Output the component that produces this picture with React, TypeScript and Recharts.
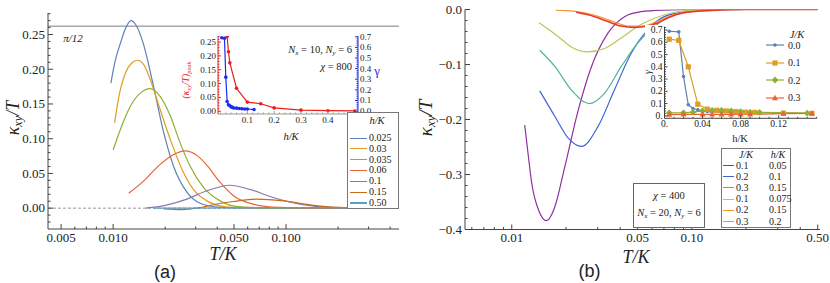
import React from "react";
import { LineChart, Line, XAxis, YAxis, ReferenceLine } from "recharts";

const SERIF = '"Liberation Serif", "Times New Roman", serif';
const SANS = '"Liberation Sans", Arial, sans-serif';
const FRAME = "#444";
const INK = "#222";

// ---------- panel (a): kappa_xy/T against T/K, one curve per h/K
const aLabels = ["0.025", "0.03", "0.035", "0.06", "0.1", "0.15", "0.50"];
const aColors = ["#5E81B5", "#E19C24", "#8FB032", "#EB6235", "#8778B3", "#C56E1A", "#5D9EC7"];

const aT025 = [0.0097, 0.0103, 0.0111, 0.0118, 0.0127, 0.0136, 0.0149, 0.0171, 0.0196, 0.0223, 0.0267, 0.0318, 0.04, 0.05, 0.07, 0.1, 0.2, 0.45];
const aK025 = [0.18, 0.213, 0.24, 0.259, 0.27, 0.263, 0.238, 0.176, 0.109, 0.061, 0.023, 0.007, 0.0015, 0.0003, 0, 0, 0, 0];
const aT03 = [0.0102, 0.0108, 0.0118, 0.0128, 0.0138, 0.015, 0.0164, 0.0187, 0.0214, 0.025, 0.0291, 0.0348, 0.045, 0.06, 0.1, 0.2, 0.45];
const aK03 = [0.123, 0.161, 0.195, 0.209, 0.213, 0.207, 0.185, 0.142, 0.099, 0.056, 0.027, 0.0105, 0.002, 0.0004, 0, 0, 0];
const aT035 = [0.01, 0.011, 0.0126, 0.0144, 0.0164, 0.0187, 0.0214, 0.0244, 0.0278, 0.0333, 0.0416, 0.05, 0.07, 0.1, 0.2, 0.45];
const aK035 = [0.084, 0.113, 0.147, 0.166, 0.172, 0.161, 0.133, 0.094, 0.061, 0.03, 0.0105, 0.003, 0.0005, 0, 0, 0];
const aT06 = [0.0123, 0.015, 0.0187, 0.0223, 0.0261, 0.0305, 0.0348, 0.0416, 0.0496, 0.0646, 0.09, 0.15, 0.45];
const aK06 = [0.0216, 0.039, 0.063, 0.077, 0.0824, 0.076, 0.062, 0.037, 0.018, 0.0057, 0.001, 0, 0];
const aT1 = [0.0154, 0.02, 0.0267, 0.0348, 0.0474, 0.0616, 0.0842, 0.12, 0.18, 0.3, 0.45];
const aK1 = [0, 0.004, 0.013, 0.025, 0.033, 0.027, 0.0154, 0.0057, 0.001, 0, 0];
const aT15 = [0.0196, 0.025, 0.032, 0.0398, 0.0496, 0.0675, 0.0963, 0.137, 0.2, 0.3, 0.45];
const aK15 = [-0.001, -0.002, 0.001, 0.006, 0.0096, 0.013, 0.0105, 0.0048, 0.001, 0, 0];
const aT50 = [0.017, 0.05, 0.1, 0.2, 0.45];
const aK50 = [0, 0.0003, 0.0005, 0.0003, 0];

// inset (a): peak height and gamma against h/K
const peakH = [0.025, 0.03, 0.035, 0.06, 0.1, 0.15, 0.2, 0.3, 0.4, 0.5];
const peakK = [0.27, 0.215, 0.175, 0.083, 0.033, 0.027, 0.012, 0.004, 0.002, 0.001];
const gamH = [0.005, 0.015, 0.02, 0.025, 0.03, 0.035, 0.04, 0.045, 0.05, 0.06, 0.07, 0.08, 0.09, 0.1, 0.125];
const gamG = [0.69, 0.685, 0.32, 0.09, 0.06, 0.05, 0.04, 0.035, 0.03, 0.028, 0.025, 0.022, 0.02, 0.02, 0.015];

// ---------- panel (b): kappa_xy/T against T/K for (J/K, h/K)
const bJ = ["0.1", "0.2", "0.3", "0.1", "0.2", "0.3"];
const bH = ["0.05", "0.1", "0.15", "0.075", "0.15", "0.2"];
const bColors = ["#8E2FA3", "#3D63D6", "#4DB39C", "#B8C65A", "#F09A2A", "#E8362A"];

const bT1 = [0.0118, 0.0124, 0.0129, 0.0141, 0.0156, 0.0173, 0.0197, 0.0234, 0.0277, 0.0342, 0.0423, 0.0523, 0.07, 0.1, 0.2, 0.5];
const bK1 = [-0.21, -0.27, -0.315, -0.365, -0.384, -0.36, -0.286, -0.183, -0.104, -0.043, -0.013, -0.004, -0.001, 0, 0, 0];
const bT2 = [0.0143, 0.0174, 0.0206, 0.0244, 0.0301, 0.0372, 0.046, 0.0569, 0.0703, 0.0945, 0.15, 0.5];
const bK2 = [-0.148, -0.195, -0.234, -0.249, -0.213, -0.146, -0.08, -0.037, -0.013, -0.004, 0, 0];
const bT3 = [0.0143, 0.0174, 0.0214, 0.0271, 0.0328, 0.0405, 0.05, 0.062, 0.0797, 0.107, 0.2, 0.5];
const bK3 = [-0.074, -0.104, -0.146, -0.171, -0.152, -0.104, -0.061, -0.031, -0.01, -0.003, 0, 0];
const bT4 = [0.0142, 0.0181, 0.0214, 0.0265, 0.0328, 0.0405, 0.05, 0.062, 0.08, 0.1, 0.2, 0.5];
const bK4 = [-0.024, -0.049, -0.068, -0.077, -0.071, -0.052, -0.031, -0.016, -0.005, -0.001, 0, 0];
const bT5 = [0.0175, 0.022, 0.027, 0.032, 0.038, 0.045, 0.053, 0.065, 0.08, 0.1, 0.15, 0.5];
const bK5 = [-0.001, -0.003, -0.008, -0.015, -0.024, -0.03, -0.03, -0.021, -0.009, -0.003, 0, 0];
const bT6 = [0.0228, 0.0289, 0.0342, 0.0405, 0.048, 0.0569, 0.065, 0.075, 0.09, 0.12, 0.2, 0.5];
const bK6 = [-0.005, -0.013, -0.022, -0.03, -0.0325, -0.03, -0.024, -0.014, -0.006, -0.002, 0, 0];

// inset (b): gamma against h/K for several J/K
const jLabels = ["0.0", "0.1", "0.2", "0.3"];
const jColors = ["#5E81B5", "#E19C24", "#8FB032", "#EB6235"];
const jH0 = [0.005, 0.015, 0.02, 0.025, 0.03, 0.035, 0.04, 0.045, 0.05, 0.06, 0.07, 0.08, 0.09, 0.1];
const jG0 = [0.69, 0.685, 0.32, 0.09, 0.06, 0.05, 0.04, 0.035, 0.032, 0.03, 0.027, 0.025, 0.023, 0.022];
const jH1 = [0.005, 0.015, 0.025, 0.035, 0.045, 0.055, 0.065, 0.075, 0.085, 0.095, 0.125, 0.155];
const jG1 = [0.625, 0.615, 0.4, 0.095, 0.055, 0.045, 0.04, 0.035, 0.03, 0.028, 0.022, 0.02];
const jH2 = [0.005, 0.02, 0.03, 0.04, 0.05, 0.06, 0.07, 0.08, 0.09, 0.1, 0.15];
const jG2 = [0.025, 0.025, 0.03, 0.04, 0.045, 0.045, 0.04, 0.035, 0.03, 0.028, 0.022];
const jH3 = [0.005, 0.02, 0.04, 0.05, 0.06, 0.07, 0.08, 0.09, 0.125, 0.155];
const jG3 = [0.01, 0.012, 0.012, 0.012, 0.012, 0.012, 0.012, 0.012, 0.018, 0.02];

// ---------- ticks
const steps = (a: number, b: number, d: number) => {
  const out: number[] = [];
  for (let v = a; v <= b + 1e-9; v += d) out.push(Math.round(v * 1e4) / 1e4);
  return out;
};
const aXMajor = [0.005, 0.01, 0.05, 0.1];
const aXTicks = [0.005, 0.006, 0.007, 0.008, 0.009, 0.01, 0.02, 0.03, 0.04, 0.05, 0.06, 0.07, 0.08, 0.09, 0.1, 0.2, 0.3, 0.4];
const aYMajor = [0, 0.05, 0.1, 0.15, 0.2, 0.25];
const aYTicks = steps(-0.02, 0.28, 0.01);
const bXMajor = [0.01, 0.05, 0.1, 0.5];
const bXTicks = [0.006, 0.007, 0.008, 0.009, 0.01, 0.02, 0.03, 0.04, 0.05, 0.06, 0.07, 0.08, 0.09, 0.1, 0.2, 0.3, 0.4, 0.5];
const bYMajor = [-0.4, -0.3, -0.2, -0.1, 0];
const bYTicks = steps(-0.4, 0, 0.02);
const iaXMajor = [0.1, 0.2, 0.3, 0.4];
const iaXTicks = steps(0, 0.5, 0.02);
const iaLMajor = [0, 0.05, 0.1, 0.15, 0.2, 0.25];
const iaLTicks = steps(0, 0.27, 0.01);
const iaRMajor = [0, 0.1, 0.2, 0.3, 0.4, 0.5, 0.6, 0.7];
const iaRTicks = steps(0, 0.7, 0.02);
const ibXMajor = [0, 0.04, 0.08, 0.12];
const ibXTicks = steps(0, 0.16, 0.01);
const ibYMajor = [0, 0.1, 0.2, 0.3, 0.4, 0.5, 0.6, 0.7];
const ibYTicks = steps(0, 0.72, 0.02);

type Side = "bottom" | "top" | "left" | "right";
type TickOpt = { fs?: number; big?: number; small?: number; gap?: number; stroke?: string };

const makeTick = (side: Side, major: number[], fmt: ((v: number) => string) | null, o: TickOpt = {}) => {
  const { fs = 13, big = 5, small = 2.5, gap = 3, stroke = FRAME } = o;
  return (p: any) => {
    const v = p.payload.value as number;
    const x = p.x as number;
    const y = p.y as number;
    const maj = major.some((m) => Math.abs(m - v) < 1e-9);
    const L = maj ? big : small;
    const s = maj && fmt ? fmt(v) : "";
    const ts: React.CSSProperties = { fontFamily: SERIF, fontSize: fs, fill: INK };
    if (side === "bottom")
      return (
        <g>
          <line x1={x} y1={y} x2={x} y2={y - L} stroke={stroke} />
          {s && <text x={x} y={y + gap + fs * 0.75} textAnchor="middle" style={ts}>{s}</text>}
        </g>
      );
    if (side === "top") return <line x1={x} y1={y} x2={x} y2={y + L} stroke={stroke} />;
    if (side === "left")
      return (
        <g>
          <line x1={x} y1={y} x2={x + L} y2={y} stroke={stroke} />
          {s && <text x={x - gap} y={y + fs * 0.33} textAnchor="end" style={ts}>{s}</text>}
        </g>
      );
    return (
      <g>
        <line x1={x} y1={y} x2={x - L} y2={y} stroke={stroke} />
        {s && <text x={x + gap} y={y + fs * 0.33} textAnchor="start" style={ts}>{s}</text>}
      </g>
    );
  };
};

const minus = (s: string) => s.replace("-", "\u2212");
const axisBase = { tickSize: 0, tickMargin: 0, tickLine: false, interval: 0 as const, allowDataOverflow: true };

const zip = (ts: number[], vs: number[]) => ts.map((t, i) => ({ t, v: vs[i] }));
const aSeries = [zip(aT025, aK025), zip(aT03, aK03), zip(aT035, aK035), zip(aT06, aK06), zip(aT1, aK1), zip(aT15, aK15), zip(aT50, aK50)];
const bSeries = [zip(bT1, bK1), zip(bT2, bK2), zip(bT3, bK3), zip(bT4, bK4), zip(bT5, bK5), zip(bT6, bK6)];
const jSeries = [zip(jH0, jG0), zip(jH1, jG1), zip(jH2, jG2), zip(jH3, jG3)];

// ---------- marker shapes
const Marker = ({ kind, cx, cy, c }: { kind: number; cx: number; cy: number; c: string }) => {
  if (kind === 0) return <circle cx={cx} cy={cy} r={1.8} fill={c} />;
  if (kind === 1) return <rect x={cx - 2.6} y={cy - 2.6} width={5.2} height={5.2} fill={c} />;
  if (kind === 2) return <polygon points={`${cx},${cy - 3.4} ${cx + 3.4},${cy} ${cx},${cy + 3.4} ${cx - 3.4},${cy}`} fill={c} />;
  return <polygon points={`${cx},${cy - 3.2} ${cx + 3},${cy + 2.2} ${cx - 3},${cy + 2.2}`} fill={c} />;
};
const dotOf = (kind: number, c: string) => (p: any) => <Marker key={p.index} kind={kind} cx={p.cx} cy={p.cy} c={c} />;

const abs = (l: number, t: number): React.CSSProperties => ({ position: "absolute", left: l, top: t });
const Sub = ({ children }: { children: React.ReactNode }) => (
  <span style={{ fontSize: "0.68em", verticalAlign: "-0.28em" }}>{children}</span>
);
const Txt = ({ x, y, fs, children, rot, color, it, font, anchor }: any) => (
  <div
    style={{
      position: "absolute",
      left: x,
      top: y,
      transform: `translate(${anchor === "end" ? "-100%" : anchor === "start" ? "0" : "-50%"},-50%)${rot ? " rotate(-90deg)" : ""}`,
      fontFamily: font || SERIF,
      fontSize: fs,
      fontStyle: it ? "italic" : "normal",
      color: color || INK,
      whiteSpace: "nowrap",
      lineHeight: 1,
    }}
  >
    {children}
  </div>
);

function PanelA() {
  return (
    <div style={abs(0, 0)}>
      <LineChart width={415} height={283} margin={{ top: 13, right: 16, bottom: 0, left: 0 }}>
        <XAxis xAxisId="b" type="number" dataKey="t" scale="log" domain={[0.0042, 0.45]} ticks={aXTicks} height={54}
          axisLine={{ stroke: FRAME }} tick={makeTick("bottom", aXMajor, (v) => v.toFixed(3), { fs: 13 })} {...axisBase} />
        <XAxis xAxisId="t" orientation="top" type="number" dataKey="t" scale="log" domain={[0.0042, 0.45]} ticks={aXTicks} height={0}
          axisLine={{ stroke: FRAME }} tick={makeTick("top", aXMajor, null)} {...axisBase} />
        <YAxis yAxisId="l" type="number" domain={[-0.03, 0.281]} ticks={aYTicks} width={48}
          axisLine={{ stroke: FRAME }} tick={makeTick("left", aYMajor, (v) => v.toFixed(2), { fs: 13 })} {...axisBase} />
        <YAxis yAxisId="r" orientation="right" type="number" domain={[-0.03, 0.281]} ticks={aYTicks} width={0}
          axisLine={{ stroke: FRAME }} tick={makeTick("right", aYMajor, null)} {...axisBase} />
        <ReferenceLine xAxisId="b" yAxisId="l" y={0} stroke="#999" strokeDasharray="3 2" />
        <ReferenceLine xAxisId="b" yAxisId="l" y={Math.PI / 12} stroke="#a8a8a8" strokeWidth={1.5} />
        {aSeries.map((d, i) => (
          <Line key={i} xAxisId="b" yAxisId="l" data={d} dataKey="v" type="monotone" stroke={aColors[i]}
            strokeWidth={1.2} dot={false} isAnimationActive={false} />
        ))}
      </LineChart>
    </div>
  );
}

function InsetA() {
  return (
    <div style={{ ...abs(183, 30), background: "#fff" }}>
      <LineChart width={200} height={100} margin={{ top: 6, right: 0, bottom: 0, left: 0 }}>
        <XAxis xAxisId="b" type="number" dataKey="t" domain={[-0.009, 0.512]} ticks={iaXTicks} height={16}
          axisLine={{ stroke: "#999" }} tick={makeTick("bottom", iaXMajor, (v) => v.toFixed(1), { fs: 9, big: 3, small: 1.5, gap: 2, stroke: "#999" })} {...axisBase} />
        <XAxis xAxisId="t" orientation="top" type="number" dataKey="t" domain={[-0.009, 0.512]} ticks={iaXTicks} height={0}
          axisLine={{ stroke: "#999" }} tick={makeTick("top", iaXMajor, null, { big: 3, small: 1.5, stroke: "#999" })} {...axisBase} />
        <YAxis yAxisId="l" type="number" domain={[-0.01, 0.272]} ticks={iaLTicks} width={35}
          axisLine={{ stroke: "#e02020" }} tick={makeTick("left", iaLMajor, (v) => v.toFixed(2), { fs: 9, big: 3, small: 1.5, gap: 2, stroke: "#e02020" })} {...axisBase} />
        <YAxis yAxisId="r" orientation="right" type="number" domain={[-0.027, 0.707]} ticks={iaRTicks} width={25}
          axisLine={{ stroke: "#2030e0" }} tick={makeTick("right", iaRMajor, (v) => v.toFixed(1), { fs: 9, big: 3, small: 1.5, gap: 2, stroke: "#2030e0" })} {...axisBase} />
        <Line xAxisId="b" yAxisId="l" data={zip(peakH, peakK)} dataKey="v" type="linear" stroke="#ee1c1c" strokeWidth={1.2}
          dot={dotOf(0, "#ee1c1c")} isAnimationActive={false} />
        <Line xAxisId="b" yAxisId="r" data={zip(gamH, gamG)} dataKey="v" type="linear" stroke="#1c2cee" strokeWidth={1.2}
          dot={dotOf(0, "#1c2cee")} isAnimationActive={false} />
      </LineChart>
    </div>
  );
}

function PanelB() {
  return (
    <div style={abs(415, 0)}>
      <LineChart width={415} height={283} margin={{ top: 9.5, right: 10, bottom: 0, left: 0 }}>
        <XAxis xAxisId="b" type="number" dataKey="t" scale="log" domain={[0.0055, 0.515]} ticks={bXTicks} height={53.5}
          axisLine={{ stroke: FRAME }} tick={makeTick("bottom", bXMajor, (v) => v.toFixed(2), { fs: 13 })} {...axisBase} />
        <XAxis xAxisId="t" orientation="top" type="number" dataKey="t" scale="log" domain={[0.0055, 0.515]} ticks={bXTicks} height={0}
          axisLine={{ stroke: FRAME }} tick={makeTick("top", bXMajor, null)} {...axisBase} />
        <YAxis yAxisId="l" type="number" domain={[-0.4, 0]} ticks={bYTicks} width={50}
          axisLine={{ stroke: FRAME }} tick={makeTick("left", bYMajor, (v) => minus(v.toFixed(1)), { fs: 13 })} {...axisBase} />
        <YAxis yAxisId="r" orientation="right" type="number" domain={[-0.4, 0]} ticks={bYTicks} width={0}
          axisLine={{ stroke: FRAME }} tick={makeTick("right", bYMajor, null)} {...axisBase} />
        {bSeries.map((d, i) => (
          <Line key={i} xAxisId="b" yAxisId="l" data={d} dataKey="v" type="monotone" stroke={bColors[i]}
            strokeWidth={i === 5 ? 1.6 : 1.2} dot={false} isAnimationActive={false} />
        ))}
      </LineChart>
    </div>
  );
}

function InsetB() {
  return (
    <div style={{ ...abs(645, 25), background: "#fff" }}>
      <LineChart width={172.5} height={107} margin={{ top: 1.7, right: 0.8, bottom: 0, left: 0 }}>
        <XAxis xAxisId="b" type="number" dataKey="t" domain={[0, 0.16]} ticks={ibXTicks} height={13.7}
          axisLine={{ stroke: FRAME }} tick={makeTick("bottom", ibXMajor, (v) => (v === 0 ? "0." : v.toFixed(2)), { fs: 9.5, big: 3, small: 1.5, gap: 2 })} {...axisBase} />
        <XAxis xAxisId="t" orientation="top" type="number" dataKey="t" domain={[0, 0.16]} ticks={ibXTicks} height={0}
          axisLine={{ stroke: FRAME, strokeDasharray: "1 1" }} tick={makeTick("top", ibXMajor, null, { big: 3, small: 1.5 })} {...axisBase} />
        <YAxis yAxisId="l" type="number" domain={[-0.02, 0.727]} ticks={ibYTicks} width={19.5}
          axisLine={{ stroke: FRAME }} tick={makeTick("left", ibYMajor, (v) => (v === 0 ? "0." : v.toFixed(1)), { fs: 9.5, big: 3, small: 1.5, gap: 2 })} {...axisBase} />
        <YAxis yAxisId="r" orientation="right" type="number" domain={[-0.02, 0.727]} ticks={ibYTicks} width={0}
          axisLine={{ stroke: FRAME, strokeDasharray: "1 1" }} tick={makeTick("right", ibYMajor, null, { big: 3, small: 1.5 })} {...axisBase} />
        {jSeries.map((d, i) => (
          <Line key={i} xAxisId="b" yAxisId="l" data={d} dataKey="v" type="linear" stroke={jColors[i]}
            strokeWidth={1.2} dot={dotOf(i, jColors[i])} isAnimationActive={false} />
        ))}
      </LineChart>
    </div>
  );
}

export default function App() {
  return (
    <div style={{ position: "absolute", left: 0, top: 0, width: 830, height: 283, background: "#fff", overflow: "hidden", fontFamily: SERIF }}>
      <PanelA />
      <InsetA />
      <PanelB />
      <InsetB />

      {/* panel (a) labels */}
      <Txt x={13.5} y={118} fs={18} it rot>κ<Sub>xy</Sub>/T</Txt>
      <Txt x={223} y={254} fs={18} it>T/K</Txt>
      <Txt x={165} y={272} fs={18} font={SANS}>(a)</Txt>
      <Txt x={73} y={37.5} fs={11} it>π/12</Txt>
      <Txt x={187} y={80} fs={9.5} it rot color="#ee1c1c">(κ<Sub>xy</Sub>/T)<Sub>peak</Sub></Txt>
      <Txt x={377} y={70} fs={13} color="#1c2cee">γ</Txt>
      <Txt x={291} y={137} fs={10.5} it>h/K</Txt>
      <Txt x={352} y={51} fs={10.5} anchor="end"><i>N</i><Sub><i>x</i></Sub> = 10, <i>N</i><Sub><i>y</i></Sub> = 6</Txt>
      <Txt x={352} y={67} fs={10.5} anchor="end"><i>χ</i> = 800</Txt>

      <div style={{ ...abs(347, 112), width: 52, height: 97, border: "1px solid #777", background: "#fff", boxSizing: "border-box" }} />
      <Txt x={377} y={121} fs={10.5} it>h/K</Txt>
      {aLabels.map((l, i) => (
        <React.Fragment key={l}>
          <div style={{ ...abs(350, 137.5 + i * 10.8), width: 17, borderTop: `${i === 6 ? 2 : 1.3}px solid ${aColors[i]}` }} />
          <Txt x={369} y={138 + i * 10.8} fs={10} anchor="start">{l}</Txt>
        </React.Fragment>
      ))}

      {/* panel (b) labels */}
      <Txt x={427} y={118} fs={19} it rot>κ<Sub>xy</Sub>/T</Txt>
      <Txt x={636} y={257} fs={18} it>T/K</Txt>
      <Txt x={589.5} y={271} fs={18} font={SANS}>(b)</Txt>
      <Txt x={647.5} y={71.5} fs={10} it rot>γ</Txt>
      <Txt x={740} y={139} fs={10.5}>h/K</Txt>

      <Txt x={797} y={35} fs={10.5} it>J/K</Txt>
      {jLabels.map((l, i) => (
        <React.Fragment key={l}>
          <svg style={{ ...abs(766, 40 + i * 17.5) }} width={18} height={10}>
            <line x1={0} y1={5} x2={18} y2={5} stroke={jColors[i]} strokeWidth={1.2} />
            <Marker kind={i} cx={9} cy={5} c={jColors[i]} />
          </svg>
          <Txt x={788} y={45.5 + i * 17.5} fs={10} anchor="start">{l}</Txt>
        </React.Fragment>
      ))}

      <div style={{ ...abs(721, 148), width: 70, height: 80, border: "1px solid #777", background: "#fff", boxSizing: "border-box" }} />
      <Txt x={746} y={155} fs={10} it>J/K</Txt>
      <Txt x={778} y={155} fs={10} it>h/K</Txt>
      {bJ.map((j, i) => (
        <React.Fragment key={i}>
          <div style={{ ...abs(723, 165 + i * 11.2), width: 11, borderTop: `1.5px solid ${bColors[i]}`, opacity: i === 5 ? 0.6 : 1 }} />
          <Txt x={736} y={165.5 + i * 11.2} fs={10} anchor="start">{j}</Txt>
          <Txt x={769} y={165.5 + i * 11.2} fs={10} anchor="start">{bH[i]}</Txt>
        </React.Fragment>
      ))}

      <div style={{ ...abs(633, 183), width: 72, height: 45, border: "1px solid #666", background: "#fff", boxSizing: "border-box" }} />
      <Txt x={669} y={196} fs={10.5}><i>χ</i> = 400</Txt>
      <Txt x={669} y={214} fs={10.5}><i>N</i><Sub><i>x</i></Sub> = 20, <i>N</i><Sub><i>y</i></Sub> = 6</Txt>
    </div>
  );
}
